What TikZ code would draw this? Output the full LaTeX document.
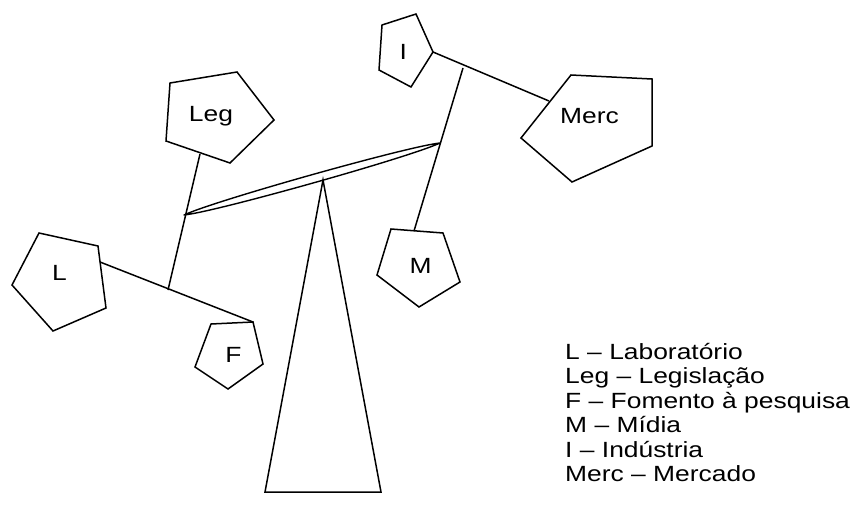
\documentclass[tikz,border=0pt]{standalone}
\usepackage{fontspec}
\setmainfont{Liberation Sans}
\begin{document}
\begin{tikzpicture}[x=1pt,y=-1pt,
  outline/.style={draw=black,line width=1.5pt,line join=miter},
  wire/.style={draw=black,line width=1.5pt},
  lbl/.style={inner sep=0pt,anchor=base,xscale=1.2,font=\fontsize{22}{24.5}\selectfont},
  keyline/.style={inner sep=0pt,anchor=base west,xscale=1.2,font=\fontsize{22}{24.5}\selectfont}]
\useasboundingbox (0,0) rectangle (853,516);

% pentagon corners
\coordinate (leg1) at (170,83);  \coordinate (leg2) at (237,72);  \coordinate (leg3) at (274,120);
\coordinate (leg4) at (230,163); \coordinate (leg5) at (166,141);
\coordinate (l1) at (39,233);   \coordinate (l2) at (98,246);   \coordinate (l3) at (106,308);
\coordinate (l4) at (53,331);   \coordinate (l5) at (12,285);
\coordinate (f1) at (211,324);  \coordinate (f2) at (253,322);  \coordinate (f3) at (263,364);
\coordinate (f4) at (228,389);  \coordinate (f5) at (195,367);
\coordinate (m1) at (391,229);  \coordinate (m2) at (443,233);  \coordinate (m3) at (460,282);
\coordinate (m4) at (419,307);  \coordinate (m5) at (377,275);
\coordinate (i1) at (382,25);   \coordinate (i2) at (416,14);   \coordinate (i3) at (433,52);
\coordinate (i4) at (411,87);   \coordinate (i5) at (379,70);
\coordinate (mc1) at (571,75);  \coordinate (mc2) at (652,79);  \coordinate (mc3) at (652,146);
\coordinate (mc4) at (572,182); \coordinate (mc5) at (521,138);

\draw[outline] (leg1)--(leg2)--(leg3)--(leg4)--(leg5)--cycle;
\draw[outline] (l1)--(l2)--(l3)--(l4)--(l5)--cycle;
\draw[outline] (f1)--(f2)--(f3)--(f4)--(f5)--cycle;
\draw[outline] (m1)--(m2)--(m3)--(m4)--(m5)--cycle;
\draw[outline] (i1)--(i2)--(i3)--(i4)--(i5)--cycle;
\draw[outline] (mc1)--(mc2)--(mc3)--(mc4)--(mc5)--cycle;

% pentagon labels
\node[lbl] (tleg) at (211,121.7) {Leg};
\node[lbl] (tl) at (59.5,280.7) {L};
\node[lbl] (tf) at (233.5,362.7) {F};
\node[lbl] (tm) at (420.5,273.3) {M};
\node[lbl] (ti) at (403.3,60) {I};
\node[lbl] (tmc) at (589.5,124) {Merc};

% hangers and cross bars
\coordinate (legfoot) at (200,154);
\coordinate (lside) at (100,262);
\coordinate (lknot) at (168,290);
\coordinate (rtop) at (463,68);
\coordinate (mtop) at (414,231);
\coordinate (mcside) at (549,101);
\draw[wire] (legfoot) -- (lknot);
\draw[wire] (lside) -- (f2);
\draw[wire] (rtop) -- (mtop);
\draw[wire] (i3) -- (mcside);

% beam
\coordinate (bl) at (184,215);
\coordinate (br) at (440,143);
\draw[outline,line width=1.4pt,line join=round]
  (bl) .. controls (213.2,201.1) and (407.8,146.3) .. (br)
       .. controls (410.8,156.9) and (216.2,211.7) .. (bl) -- cycle;

% fulcrum
\coordinate (apex) at (323,180);
\coordinate (baseL) at (265,492);
\coordinate (baseR) at (381,492);
\draw[outline] (apex) -- (baseR) -- (baseL) -- cycle;

% key
\node[keyline] (k1) at (565,359) {L – Laboratório};
\node[keyline] (k2) at (565,383.5) {Leg – Legislação};
\node[keyline] (k3) at (565,408) {F – Fomento à pesquisa};
\node[keyline] (k4) at (565,432.5) {M – Mídia};
\node[keyline] (k5) at (565,457) {I – Indústria};
\node[keyline] (k6) at (565,481.5) {Merc – Mercado};
\end{tikzpicture}
\end{document}
